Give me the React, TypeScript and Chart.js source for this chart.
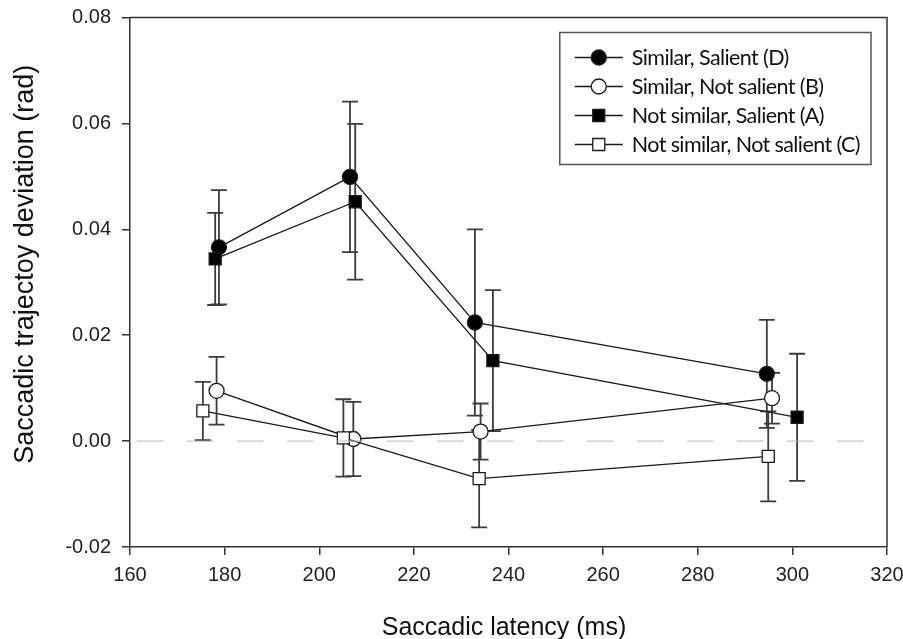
import React, { useEffect, useRef } from "react";
import { Chart, registerables } from "chart.js";

Chart.register(...registerables);

// ---- data ----
const seriesLabels = [
  "Similar, Salient (D)",
  "Similar, Not salient (B)",
  "Not similar, Salient (A)",
  "Not similar, Not salient (C)",
];

const dX = [178.8, 206.5, 232.9, 294.6];
const dY = [0.0366, 0.0499, 0.0224, 0.0127];
const dErr = [0.0108, 0.0142, 0.0176, 0.0102];

const bX = [178.3, 207.2, 234.1, 295.7];
const bY = [0.0095, 0.0004, 0.0018, 0.0081];
const bErr = [0.0064, 0.007, 0.0053, 0.0048];

const aX = [178.0, 207.6, 236.7, 301.0];
const aY = [0.0344, 0.0452, 0.0152, 0.0045];
const aErr = [0.0087, 0.0147, 0.0133, 0.012];

const cX = [175.4, 205.1, 233.8, 294.9];
const cY = [0.0057, 0.0006, -0.0071, -0.0029];
const cErr = [0.0055, 0.0073, 0.0092, 0.0085];

const refLineX = [161.4, 316.0];
const refLineY = [0, 0];

const xTickValues = [160, 180, 200, 220, 240, 260, 280, 300, 320];
const yTickValues = [-0.02, 0.0, 0.02, 0.04, 0.06, 0.08];

const xTitle = "Saccadic latency (ms)";
const yTitle = "Saccadic trajectoy deviation (rad)";

const toPoints = (xs: number[], ys: number[]) => xs.map((x, i) => ({ x, y: ys[i] }));

const AXIS_COLOR = "#333333";
const LINE_COLOR = "#1a1a1a";
const TICK_FONT = '"Liberation Sans", Arial, sans-serif';

const errorBarPlugin = {
  id: "errorBars",
  beforeDatasetsDraw(chart: any) {
    const ctx = chart.ctx;
    const yScale = chart.scales.y;
    chart.data.datasets.forEach((ds: any, di: number) => {
      const errs: number[] | undefined = ds.errors;
      if (!errs) return;
      const meta = chart.getDatasetMeta(di);
      ctx.save();
      ctx.strokeStyle = "#3c3c3c";
      ctx.lineWidth = 1.8;
      meta.data.forEach((pt: any, i: number) => {
        const v = ds.data[i].y;
        const e = errs[i];
        const px = pt.x;
        const top = yScale.getPixelForValue(v + e);
        const bot = yScale.getPixelForValue(v - e);
        ctx.beginPath();
        ctx.moveTo(px, top);
        ctx.lineTo(px, bot);
        ctx.moveTo(px - 8, top);
        ctx.lineTo(px + 8, top);
        ctx.moveTo(px - 8, bot);
        ctx.lineTo(px + 8, bot);
        ctx.stroke();
      });
      ctx.restore();
    });
  },
};

const framePlugin = {
  id: "frame",
  beforeDatasetsDraw(chart: any) {
    const { ctx, chartArea } = chart;
    ctx.save();
    ctx.strokeStyle = AXIS_COLOR;
    ctx.lineWidth = 1.5;
    ctx.beginPath();
    ctx.moveTo(chartArea.left, chartArea.top);
    ctx.lineTo(chartArea.right, chartArea.top);
    ctx.lineTo(chartArea.right, chartArea.bottom);
    ctx.stroke();
    ctx.restore();
  },
};

const titlesPlugin = {
  id: "axisTitles",
  afterDraw(chart: any) {
    const { ctx, chartArea } = chart;
    ctx.save();
    ctx.fillStyle = "#111";
    ctx.textAlign = "center";
    // x title
    ctx.font = `25px ${TICK_FONT}`;
    ctx.textBaseline = "alphabetic";
    ctx.fillText(xTitle, (chartArea.left + chartArea.right) / 2 - 4.5, 635);
    // y title
    ctx.translate(26, (chartArea.top + chartArea.bottom) / 2 - 18);
    ctx.rotate(-Math.PI / 2);
    ctx.font = `27px ${TICK_FONT}`;
    ctx.textBaseline = "middle";
    ctx.fillText(yTitle, 0, 0);
    ctx.restore();
  },
};

const drawMarker = (ctx: any, style: string, x: number, y: number, r: number, fill: string) => {
  ctx.beginPath();
  if (style === "rect") {
    const s = Math.SQRT1_2 * r;
    ctx.rect(x - s, y - s, 2 * s, 2 * s);
  } else {
    ctx.arc(x, y, r, 0, Math.PI * 2);
  }
  ctx.fillStyle = fill;
  ctx.fill();
  ctx.lineWidth = 1.3;
  ctx.strokeStyle = LINE_COLOR;
  ctx.stroke();
};

const legendPlugin = {
  id: "customLegend",
  afterDraw(chart: any) {
    const { ctx, chartArea } = chart;
    const items = chart.data.datasets
      .filter((d: any) => d.legendOrder !== undefined)
      .sort((a: any, b: any) => a.legendOrder - b.legendOrder);
    ctx.save();
    ctx.font = '21.5px Lato, "Noto Sans", sans-serif';
    try {
      ctx.letterSpacing = "-0.6px";
    } catch (e) {}
    let maxW = 0;
    items.forEach((d: any) => {
      maxW = Math.max(maxW, ctx.measureText(d.label).width);
    });
    const boxW = 72 + maxW + 11;
    const boxH = 132;
    const right = chartArea.right - 16;
    const left = right - boxW;
    const top = chartArea.top + 15;
    ctx.fillStyle = "#fff";
    ctx.fillRect(left, top, boxW, boxH);
    ctx.strokeStyle = "#555";
    ctx.lineWidth = 1.5;
    ctx.strokeRect(left, top, boxW, boxH);
    items.forEach((d: any, i: number) => {
      const cy = top + 25 + i * 29;
      ctx.beginPath();
      ctx.moveTo(left + 15, cy);
      ctx.lineTo(left + 63, cy);
      ctx.strokeStyle = LINE_COLOR;
      ctx.lineWidth = 1.3;
      ctx.stroke();
      drawMarker(ctx, d.pointStyle, left + 39, cy, d.pointRadius, d.pointBackgroundColor);
      ctx.fillStyle = "#111";
      ctx.textAlign = "left";
      ctx.textBaseline = "middle";
      ctx.fillText(d.label, left + 72, cy + 1);
    });
    ctx.restore();
  },
};

export default function App() {
  const canvasRef = useRef<HTMLCanvasElement | null>(null);

  useEffect(() => {
    document.body.style.margin = "0";
    const canvas = canvasRef.current;
    if (!canvas) return;

    const makeSeries = (
      order: number,
      xs: number[],
      ys: number[],
      errs: number[],
      style: string,
      radius: number,
      fill: string
    ) => ({
      label: seriesLabels[order],
      legendOrder: order,
      data: toPoints(xs, ys),
      errors: errs,
      showLine: true,
      borderColor: LINE_COLOR,
      borderWidth: 1.3,
      pointStyle: style,
      pointRadius: radius,
      pointHoverRadius: radius,
      pointBackgroundColor: fill,
      pointBorderColor: LINE_COLOR,
      pointBorderWidth: 1.3,
      fill: false,
      tension: 0,
    });

    const chart = new Chart(canvas, {
      type: "scatter",
      data: {
        datasets: [
          {
            label: "zero",
            data: toPoints(refLineX, refLineY),
            showLine: true,
            borderColor: "#b4b4b4",
            borderWidth: 1,
            borderDash: [27, 23],
            pointRadius: 0,
          } as any,
          makeSeries(3, cX, cY, cErr, "rect", 8.5, "#ffffff"),
          makeSeries(2, aX, aY, aErr, "rect", 8.5, "#000000"),
          makeSeries(1, bX, bY, bErr, "circle", 7.5, "#ffffff"),
          makeSeries(0, dX, dY, dErr, "circle", 7.5, "#000000"),
        ],
      },
      options: {
        animation: false,
        responsive: false,
        layout: { padding: { top: 17.5, right: 16, bottom: 0, left: 0 } },
        plugins: {
          legend: { display: false },
          tooltip: { enabled: false },
        },
        scales: {
          x: {
            type: "linear",
            min: 160,
            max: 320,
            afterBuildTicks: (scale: any) => {
              scale.ticks = xTickValues.map((v) => ({ value: v }));
            },
            afterFit: (scale: any) => {
              scale.height = 92;
              scale.paddingLeft = 0;
              scale.paddingRight = 0;
            },
            ticks: {
              font: { size: 20, family: TICK_FONT },
              color: "#222",
              padding: 8,
              maxRotation: 0,
              callback: (v: any) => String(v),
            },
            grid: {
              drawOnChartArea: false,
              drawTicks: true,
              tickLength: 8,
              color: AXIS_COLOR,
              lineWidth: 1.5,
            },
            border: { display: true, color: AXIS_COLOR, width: 1.5 },
            title: { display: false },
          },
          y: {
            type: "linear",
            min: -0.02,
            max: 0.08,
            afterBuildTicks: (scale: any) => {
              scale.ticks = yTickValues.map((v) => ({ value: v }));
            },
            afterFit: (scale: any) => {
              scale.width = 130;
              scale.paddingTop = 0;
              scale.paddingBottom = 0;
            },
            ticks: {
              font: { size: 20, family: TICK_FONT },
              color: "#222",
              padding: 11,
              callback: (v: any) => Number(v).toFixed(2),
            },
            grid: {
              drawOnChartArea: false,
              drawTicks: true,
              tickLength: 8,
              color: AXIS_COLOR,
              lineWidth: 1.5,
            },
            border: { display: true, color: AXIS_COLOR, width: 1.5 },
          },
        },
      } as any,
      plugins: [framePlugin, errorBarPlugin, titlesPlugin, legendPlugin],
    });

    return () => chart.destroy();
  }, []);

  return (
    <div style={{ position: "relative", width: 903, height: 639 }}>
      <canvas ref={canvasRef} width={903} height={639} />
    </div>
  );
}
